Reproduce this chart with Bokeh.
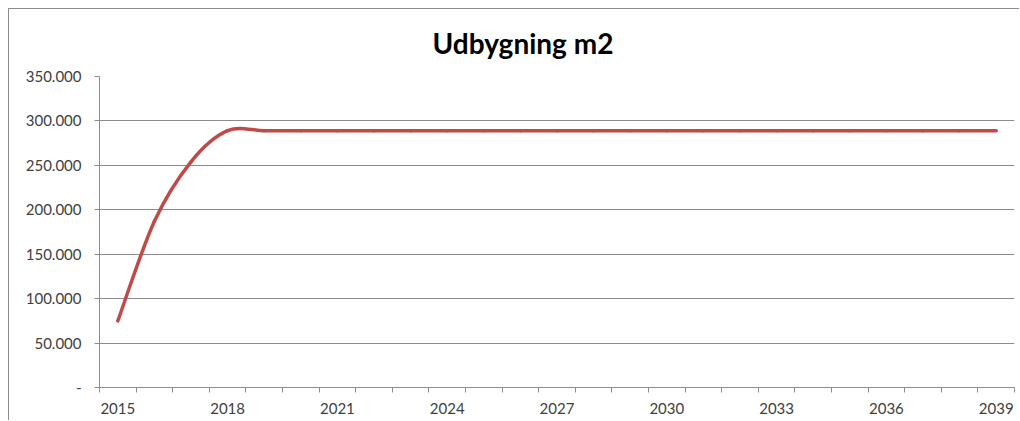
from bokeh.plotting import figure
from bokeh.models import Range1d, FixedTicker
from bokeh.embed import file_html
from bokeh.resources import INLINE

# ---- data ----
years = list(range(2015, 2040))
values = [75000, 187000, 254000, 289000] + [289000] * 21
x_label_years = [2015, 2018, 2021, 2024, 2027, 2030, 2033, 2036, 2039]
y_ticks = [0, 50000, 100000, 150000, 200000, 250000, 300000, 350000]
y_tick_labels = ["-", "50.000", "100.000", "150.000", "200.000", "250.000", "300.000", "350.000"]
title_text = "Udbygning m2"

FONT = "Lato"
TXT = "#404040"
GRID = "#8c8c8c"
RED = "#BE4B48"

p = figure(width=1011, height=412, output_backend="svg", toolbar_location=None,
           x_range=Range1d(years[0] - 0.5, years[-1] + 0.5),
           y_range=Range1d(0, 350000),
           min_border_left=90, min_border_right=6, min_border_top=67, min_border_bottom=34)
p.styles = {"margin-left": "8px", "margin-top": "8px",
            "border-left": "1px solid #8c8c8c", "border-top": "1px solid #8c8c8c"}
p.outline_line_color = None
p.background_fill_color = "white"
p.border_fill_color = "white"

p.title.text = title_text
p.title.align = "left"
p.title.offset = 333
p.title.vertical_align = "top"
p.title.text_font = FONT
p.title.text_font_size = "28px"
p.title.text_font_style = "bold"
p.title.text_color = "black"
p.title.standoff = 29

# smoothed line (Catmull-Rom style bezier segments built from the data)
n = len(years)
x0, y0, x1, y1, cx0, cy0, cx1, cy1 = [], [], [], [], [], [], [], []
for i in range(n - 1):
    pm = max(i - 1, 0)
    pp = min(i + 2, n - 1)
    x0.append(years[i]); y0.append(values[i])
    x1.append(years[i + 1]); y1.append(values[i + 1])
    cx0.append(years[i] + (years[i + 1] - years[pm]) / 6)
    cy0.append(values[i] + (values[i + 1] - values[pm]) / 6)
    cx1.append(years[i + 1] - (years[pp] - years[i]) / 6)
    cy1.append(values[i + 1] - (values[pp] - values[i]) / 6)
p.bezier(x0=x0, y0=y0, x1=x1, y1=y1, cx0=cx0, cy0=cy0, cx1=cx1, cy1=cy1,
         line_color=RED, line_width=3.5, line_cap="round")

# axes
xa = p.xaxis[0]
xa.ticker = FixedTicker(ticks=x_label_years,
                        minor_ticks=[y - 0.5 for y in years] + [years[-1] + 0.5])
xa.major_tick_out = 0
xa.major_tick_in = 0
xa.minor_tick_out = 5
xa.minor_tick_in = 0
xa.minor_tick_line_color = GRID
xa.axis_line_color = GRID
xa.major_label_text_font = FONT
xa.major_label_text_font_size = "15px"
xa.major_label_text_color = TXT
xa.major_label_standoff = 10

ya = p.yaxis[0]
ya.ticker = FixedTicker(ticks=y_ticks, minor_ticks=[])
ya.major_label_overrides = {t: l for t, l in zip(y_ticks, y_tick_labels)}
ya.major_tick_out = 5
ya.major_tick_in = 0
ya.major_tick_line_color = GRID
ya.axis_line_color = GRID
ya.major_label_text_font = FONT
ya.major_label_text_font_size = "15px"
ya.major_label_text_color = TXT
ya.major_label_standoff = 13

p.xgrid.visible = False
p.ygrid.grid_line_color = GRID
p.ygrid.grid_line_width = 1

open("out.html", "w").write(file_html(p, INLINE))
